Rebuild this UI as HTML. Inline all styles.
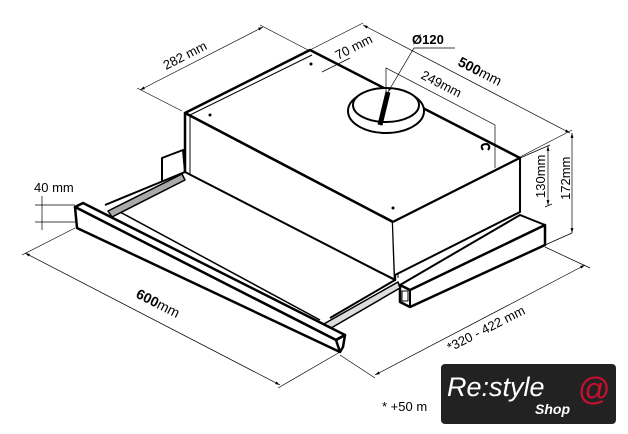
<!DOCTYPE html>
<html><head><style>
html,body{margin:0;padding:0;background:#fff;}
svg{display:block}
text{font-family:"Liberation Sans",sans-serif;}
</style></head><body>
<svg width="628" height="434" viewBox="0 0 628 434" xmlns="http://www.w3.org/2000/svg">
<defs>
<marker id="a" viewBox="0 0 10 10" refX="10" refY="5" markerWidth="7" markerHeight="7" orient="auto-start-reverse"><path d="M0,2 L10,5 L0,8 Z" fill="#000"/></marker>
</defs>
<g fill="none" stroke="#000" stroke-linejoin="round">
<path d="M162,158 L183,150 L185,172 L162,182 Z" stroke-width="2" fill="#fff"/>
<path d="M185,113 L310,50 L520,158 L393,222 Z" stroke-width="2.5" fill="#fff"/>
<path d="M190,115 L312,55" stroke-width="1"/>
<path d="M393,222 L518,160" stroke-width="1"/>
<path d="M185,113 L393,222 L395,280 L185,175 Z" stroke-width="2.5" fill="#fff"/>
<path d="M190,116 L190,176" stroke-width="1"/>
<path d="M398,224 L398,278" stroke-width="1"/>
<path d="M393,222 L520,158 L520,212 L395,275" stroke-width="2" fill="#fff"/>
<path d="M400,285 L520,215 L545,225 L410,300" stroke-width="2" fill="#fff"/>
<path d="M410,290 L545,225 L545,245 L410,307 L400,302 L400,285 Z" stroke-width="2.5" fill="#fff"/>
<path d="M410,290 L410,307" stroke-width="2"/>
<rect x="402" y="291" width="6" height="10" fill="#fff" stroke-width="1"/>
<path d="M105,205 L185,172 L395,280 L330,318" stroke-width="2" fill="#fff"/>
<path d="M120,212 L320,320" stroke-width="1.5"/>
<path d="M108,211 L182,174 L185,180 L112,217 Z" fill="#aaa" stroke-width="1.5"/>
<path d="M322,325 L398,282 L400,288 L326,331 Z" fill="#ddd" stroke-width="1.5"/>
<path d="M75,207 L83,203 L345,335 L336,340 Z" stroke-width="2.5" fill="#fff"/>
<path d="M75,207 L336,340 L340,352 L77,228 Z" stroke-width="2.5" fill="#fff"/>
<path d="M336,340 L345,335 L343,347 L340,352" stroke-width="2.5"/>
<ellipse cx="386" cy="111" rx="38" ry="22" fill="#fff" stroke-width="2"/>
<ellipse cx="386" cy="105" rx="33" ry="17" fill="#fff" stroke-width="2"/>
<path d="M388,92 L380,125" stroke-width="5"/>
<path d="M483,150 q-4,-6 4,-6 q4,2 1,6" stroke-width="2"/>
</g>
<g fill="#000"><circle cx="210" cy="115" r="1.5"/><circle cx="311" cy="64" r="1.5"/><circle cx="393" cy="208" r="1.5"/></g>
<g stroke="#000" stroke-width="0.7" fill="none">
<path d="M140,90 L263,27" marker-start="url(#a)" marker-end="url(#a)"/><path d="M137,88 L182,111"/><path d="M260,25 L308,50"/>
<path d="M363,25 L570,133" marker-start="url(#a)" marker-end="url(#a)"/><path d="M310,50 L363,23"/><path d="M520,157 L572,130"/>
<path d="M322,72 L350,58"/><path d="M386,95 L386,68 L495,125 L495,168"/>
<path d="M455,48 L414,48 L388,92" marker-end="url(#a)"/>
<path d="M25,253 L280,385" marker-start="url(#a)" marker-end="url(#a)"/><path d="M75,228 L22,255"/><path d="M340,352 L278,388"/>
<path d="M375,375 L585,265" marker-start="url(#a)" marker-end="url(#a)"/><path d="M340,355 L375,378"/><path d="M545,247 L590,268"/>
<path d="M548,146 L548,205" marker-start="url(#a)" marker-end="url(#a)"/><path d="M520,158 L550,145"/><path d="M545,207 L552,204"/>
<path d="M572,133 L572,233" marker-start="url(#a)" marker-end="url(#a)"/><path d="M545,245 L572,233"/>
<path d="M42,196 L42,230"/><path d="M35,205 L75,205"/><path d="M35,222 L75,222"/>
</g>
<text x="0" y="0" font-size="13" fill="#000" transform="translate(166,70) rotate(-27)">282 mm</text>
<text x="0" y="0" font-size="13" fill="#000" transform="translate(338,60) rotate(-27)">70 mm</text>
<text x="0" y="0" font-size="13" fill="#000" transform="translate(420,78) rotate(27)">249mm</text>
<text x="412" y="44" font-size="13" font-weight="bold">Ø120</text>
<text x="0" y="0" font-size="14" fill="#000" transform="translate(457,65) rotate(27)"><tspan font-weight="bold">500</tspan>mm</text>
<text x="0" y="0" font-size="14" fill="#000" transform="translate(135,297) rotate(27)"><tspan font-weight="bold">600</tspan>mm</text>
<text x="34" y="192" font-size="13">40 mm</text>
<text x="0" y="0" font-size="13" transform="translate(545,198) rotate(-90)">130mm</text>
<text x="0" y="0" font-size="13" transform="translate(570,200) rotate(-90)">172mm</text>
<text x="0" y="0" font-size="13" transform="translate(450,352) rotate(-27)">*320 - 422 mm</text>
<text x="382" y="411" font-size="13">* +50 m</text>
<rect x="441" y="364" width="175" height="60" rx="4" fill="#222"/>
<text x="447" y="396" font-size="27" font-style="italic" fill="#fff">Re:style</text>
<text x="535" y="414" font-size="14" font-style="italic" font-weight="bold" fill="#fff">Shop</text>
<text x="578" y="400" font-size="32" fill="#c8102e">@</text>
</svg>
</body></html>
